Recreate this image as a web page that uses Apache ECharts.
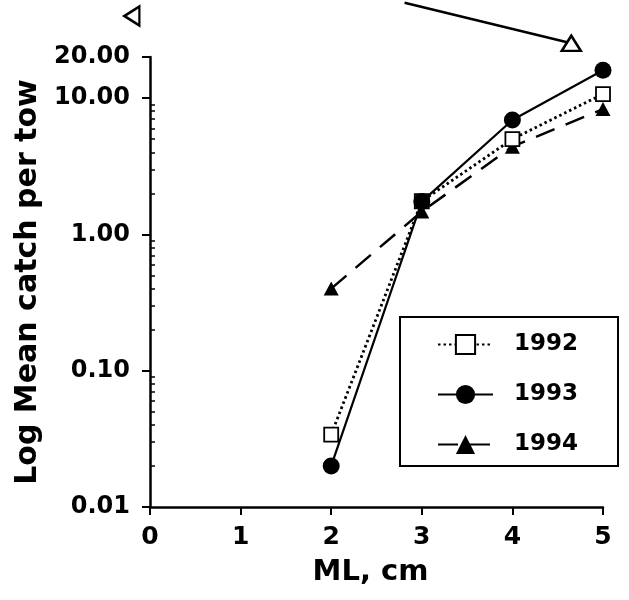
<!DOCTYPE html>
<html>
<head>
<meta charset="utf-8">
<script src="https://cdn.jsdelivr.net/npm/echarts@6/dist/echarts.min.js"></script>
<style>html,body{margin:0;padding:0;background:#fff;}#c{width:629px;height:600px;}</style>
</head>
<body>
<div id="c"></div>
<script>
// ---- data ----
const ML = [2, 3, 4, 5];
const catch1992 = [0.034, 1.75, 5.0, 10.7];
const catch1993 = [0.020, 1.74, 6.9, 16.0];
const catch1994 = [0.40, 1.47, 4.4, 8.3];
const seriesNames = ['1992', '1993', '1994'];
const xTickValues = [0, 1, 2, 3, 4, 5];
const yLabelValues = [0.01, 0.1, 1, 10, 20];
const yMinorTicks = [0.02,0.03,0.04,0.05,0.06,0.07,0.08,0.09,
                     0.2,0.3,0.4,0.5,0.6,0.7,0.8,0.9,
                     2,3,4,5,6,7,8,9];
// partial traces entering from above the frame (cut-off panel)
const traceRightX = [2.81, 4.65];
const traceRightY = [50, 25.2];
const traceLeftX = [-0.48, -0.2];
const traceLeftY = [60, 40];

const FONT = 'DejaVu Sans';
const pairs = (xs, ys) => xs.map((x, i) => [x, ys[i]]);
const tracePairs = (xs, ys) => xs.map((x, i) => ({ value: [x, ys[i]], symbol: i === xs.length - 1 ? 'triangle' : 'none' }));

const chart = echarts.init(document.getElementById('c'));
chart.setOption({
  backgroundColor: '#ffffff',
  animation: false,
  textStyle: { fontFamily: FONT, color: '#000', fontWeight: 'bold' },
  grid: { left: 150, right: 26, top: 57, bottom: 93, containLabel: false },
  legend: {
    orient: 'vertical',
    left: 400,
    top: 317,
    data: seriesNames,
    itemWidth: 55,
    itemHeight: 24,
    itemGap: 27,
    padding: [16, 40, 10, 37],
    borderColor: '#000',
    borderWidth: 2,
    backgroundColor: '#fff',
    textStyle: { fontFamily: FONT, fontSize: 23, fontWeight: 'bold', color: '#000', padding: [0, 0, 0, 16] }
  },
  xAxis: {
    type: 'value',
    min: 0, max: 5, interval: 1,
    name: 'ML, cm',
    nameLocation: 'middle',
    nameGap: 51,
    nameTextStyle: { fontFamily: FONT, fontSize: 29, fontWeight: 'bold', color: '#000', padding: [0, 12, 0, 0] },
    axisLine: { show: true, lineStyle: { color: '#000', width: 2.5 } },
    axisTick: { show: true, length: 8, lineStyle: { color: '#000', width: 2 } },
    axisLabel: { fontFamily: FONT, fontSize: 25, fontWeight: 'bold', color: '#000', margin: 18 },
    splitLine: { show: false }
  },
  yAxis: [{
    type: 'log',
    logBase: 10,
    min: 0.01, max: 20,
    position: 'left',
    name: 'Log Mean catch per tow',
    nameLocation: 'middle',
    nameGap: 91,
    nameTextStyle: { fontFamily: FONT, fontSize: 30, fontWeight: 'bold', color: '#000' },
    axisLine: { show: true, lineStyle: { color: '#000', width: 2.5 } },
    axisTick: { show: true, length: 8, customValues: yLabelValues, lineStyle: { color: '#000', width: 2 } },
    axisLabel: { customValues: yLabelValues, fontFamily: FONT, fontSize: 24, fontWeight: 'bold', color: '#000', margin: 20,
                 formatter: v => Number(v).toFixed(2) },
    splitLine: { show: false }
  }, {
    type: 'log',
    logBase: 10,
    min: 0.01, max: 20,
    position: 'left',
    axisLine: { show: false },
    axisLabel: { show: false },
    axisTick: { show: true, inside: true, length: 5, customValues: yMinorTicks, lineStyle: { color: '#000', width: 1.5 } },
    splitLine: { show: false }
  }],
  series: [
    {
      name: '1992', type: 'line',
      data: pairs(ML, catch1992),
      symbol: 'rect', symbolSize: 14,
      itemStyle: { color: '#fff', borderColor: '#000', borderWidth: 1.8 },
      lineStyle: { color: '#000', width: 2.8, type: [2.5, 3] },
      z: 3
    },
    {
      name: '1993', type: 'line',
      data: pairs(ML, catch1993),
      symbol: 'circle', symbolSize: 17,
      itemStyle: { color: '#000', borderColor: '#000', borderWidth: 0 },
      lineStyle: { color: '#000', width: 2.2 },
      z: 4
    },
    {
      name: '1994', type: 'line',
      data: pairs(ML, catch1994),
      symbol: 'triangle', symbolSize: [15, 14],
      itemStyle: { color: '#000', borderColor: '#000', borderWidth: 0 },
      lineStyle: { color: '#000', width: 2.5, type: [20, 12] },
      z: 2
    },
    {
      name: 'traceR', type: 'line', clip: false, silent: true,
      data: tracePairs(traceRightX, traceRightY),
      symbolSize: [19, 15],
      showSymbol: true,
      itemStyle: { color: '#fff', borderColor: '#000', borderWidth: 2.5 },
      lineStyle: { color: '#000', width: 2.5 },
      z: 2
    },
    {
      name: 'traceL', type: 'line', clip: false, silent: true,
      data: tracePairs(traceLeftX, traceLeftY),
      symbolSize: [19, 15], symbolRotate: 90,
      showSymbol: true,
      itemStyle: { color: '#fff', borderColor: '#000', borderWidth: 2.5 },
      lineStyle: { color: '#000', width: 2.5 },
      z: 2
    }
  ]
});
</script>
</body>
</html>
